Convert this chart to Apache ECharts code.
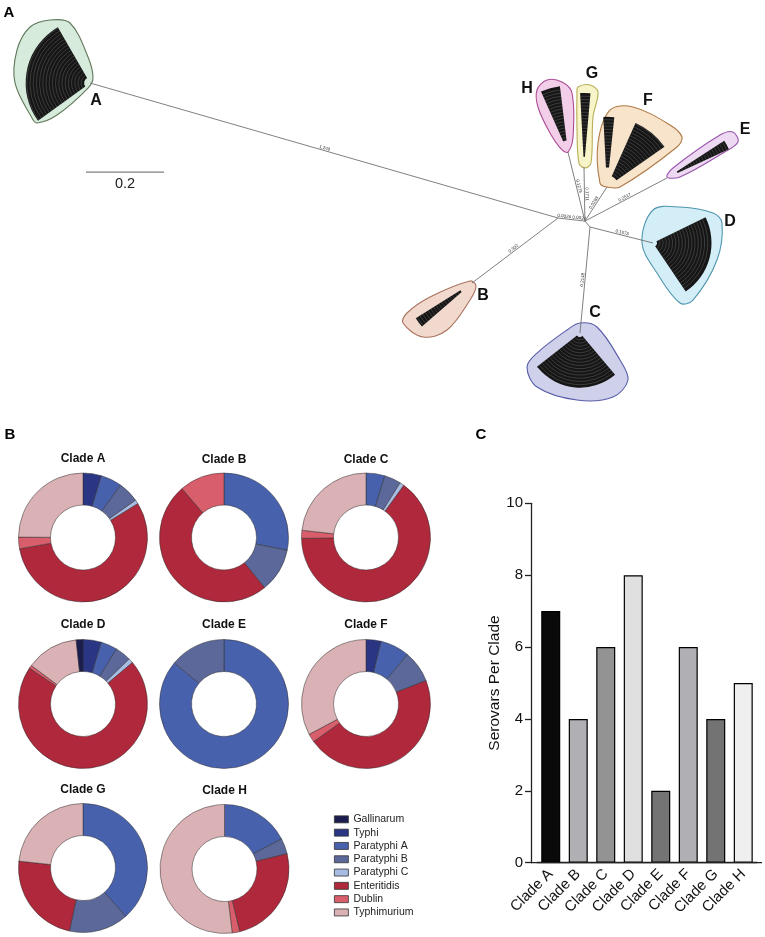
<!DOCTYPE html>
<html><head><meta charset="utf-8">
<script src="https://cdn.jsdelivr.net/npm/echarts@6/dist/echarts.min.js"></script>
<style>html,body{margin:0;padding:0;background:#fff}#c{width:765px;height:937px}</style>
</head><body><div id="c"></div>
<script>
// ================= DATA =================
// Panel B: share of each serovar (%) per clade, in legend order
const serovars = ['Gallinarum','Typhi','Paratyphi A','Paratyphi B','Paratyphi C','Enteritidis','Dublin','Typhimurium'];
const cladeNames = ['Clade A','Clade B','Clade C','Clade D','Clade E','Clade F','Clade G','Clade H'];
const cladeA = [0, 4.6, 5.3, 5.3, 1.0, 56.0, 2.9, 24.9];
const cladeB = [0, 0, 28.2, 11.0, 0, 49.5, 11.3, 0];
const cladeC = [0, 0, 4.7, 4.2, 1.1, 64.8, 2.0, 23.2];
const cladeD = [1.7, 4.6, 4.1, 4.0, 1.2, 70.5, 0.8, 13.1];
const cladeE = [0, 0, 86.0, 14.0, 0, 0, 0, 0];
const cladeF = [0, 3.8, 7.3, 8.0, 0, 46.0, 2.1, 32.8];
const cladeG = [0, 0, 38.5, 14.9, 0, 23.3, 0, 23.3];
const cladeH = [0, 0, 17.3, 3.9, 0, 25.0, 1.9, 51.9];
const cladeShares = [cladeA, cladeB, cladeC, cladeD, cladeE, cladeF, cladeG, cladeH];

// Panel C
const serovarsPerClade = [7, 4, 6, 8, 2, 6, 4, 5];
const yTickValues = [0, 2, 4, 6, 8, 10];

// Panel A: tree in branch-length units (origin = internal node N1)
const treeNodes = {
  N1: [0, 0], N2: [0.069, -0.008], N3: [0.0821, -0.0231],
  A: [-1.2, 0.3462], B: [-0.2205, -0.1667], C: [0.0564, -0.2949], D: [0.2436, -0.0641],
  E: [0.2795, 0.1026], F: [0.1256, 0.0795], G: [0.0667, 0.1308], H: [0.0256, 0.169]
};
const treeEdges = [
  ['N1', 'A', '1.249'], ['N1', 'B', '0.302'], ['N1', 'N2', '0.0026 0.0034'], ['N2', 'N3', ''],
  ['N3', 'C', '0.2148'], ['N3', 'D', '0.1573'], ['N2', 'E', '0.2517'], ['N2', 'F', '0.0283'],
  ['N2', 'G', '0.1711'], ['N2', 'H', '0.1279']
];
const hullKeys = ['A','B','C','D','E','F','G','H'];
const hullA = [[-1.3026,0.5077],[-1.2513,0.5],[-1.2051,0.4128],[-1.1923,0.359],[-1.2051,0.3333],[-1.2846,0.2641],[-1.3359,0.2436],[-1.3487,0.2564],[-1.3923,0.3462],[-1.3872,0.4308],[-1.3538,0.4897]];
const hullB = [[-0.3974,-0.2692],[-0.3462,-0.3051],[-0.2846,-0.2872],[-0.2256,-0.2103],[-0.2103,-0.1744],[-0.2256,-0.1615],[-0.3282,-0.2026],[-0.3872,-0.2436]];
const hullC = [[0.0564,-0.2692],[0.1,-0.2795],[0.159,-0.3641],[0.1795,-0.4154],[0.141,-0.459],[0.0487,-0.4667],[-0.0538,-0.4333],[-0.0795,-0.3821],[-0.0538,-0.3462],[0.0231,-0.2872]];
const hullD = [[0.2154,-0.0641],[0.2436,0.0205],[0.3128,0.0282],[0.3974,0.0128],[0.4205,-0.0128],[0.4077,-0.1077],[0.3462,-0.2103],[0.3128,-0.2179],[0.2538,-0.141]];
const hullE = [[0.2795,0.1051],[0.2949,0.1282],[0.4154,0.2128],[0.4487,0.2205],[0.4615,0.1949],[0.4231,0.1667],[0.3128,0.1051]];
const hullF = [[0.1077,0.0897],[0.1026,0.1923],[0.1333,0.2769],[0.1923,0.2846],[0.2872,0.2385],[0.3179,0.2077],[0.3051,0.1821],[0.159,0.0795],[0.1256,0.0795]];
const hullG = [[0.0513,0.3359],[0.0821,0.341],[0.1026,0.3231],[0.0897,0.259],[0.0846,0.141],[0.0692,0.1282],[0.0538,0.141],[0.0487,0.2333],[0.0487,0.3205]];
const hullH = [[-0.0538,0.3282],[-0.0282,0.3538],[0.0103,0.3487],[0.0359,0.3205],[0.0385,0.2077],[0.0256,0.1692],[0.0103,0.1744],[-0.0205,0.2179],[-0.0513,0.2846]];
const hulls = {A: hullA, B: hullB, C: hullC, D: hullD, E: hullE, F: hullF, G: hullG, H: hullH};
// leaf fans: [rootX, rootY, minAngleDeg, maxAngleDeg, innerRadius, outerRadius] (tree units)
const fans = [
  [-1.2, 0.3462, 120, 216, 0.015, 0.165],
  [-0.2205, -0.1667, 212, 221, 0.035, 0.17],
  [0.0564, -0.2949, 218, 310, 0.01, 0.14],
  [0.2436, -0.0641, -56, 26, 0.01, 0.15],
  [0.2795, 0.1026, 25, 33, 0.03, 0.175],
  [0.1256, 0.0795, 35, 66, 0.03, 0.18],
  [0.1256, 0.0795, 84, 93, 0.05, 0.18],
  [0.0667, 0.1308, 85, 93, 0.026, 0.19],
  [0.0256, 0.169, 97, 114, 0.03, 0.17]
];
const cladeLabelPos = [[-1.1846,0.3008],[-0.1923,-0.1987],[0.0949,-0.2436],[0.441,-0.0103],[0.4795,0.2256],[0.2308,0.3],[0.0872,0.3692],[-0.0795,0.3308]];
const scaleBar = [-1.2103, -1.0103, 0.1179];
const scaleBarLabel = '0.2';

// ================= STYLE =================
const FONT = "'Liberation Sans', Arial, Helvetica, sans-serif";
const serovarColors = ['#1b1d4f','#2a3583','#4861ad','#5b6899','#a8bbe3','#b0283b','#d95e6b','#dab1b4'];
const drawOrder = [1,2,3,4,5,6,7,0];
const hullFill = {A:'#d6ebdc',B:'#f1d9cd',C:'#cfd1eb',D:'#d4eef8',E:'#edd9f1',F:'#f8e3cb',G:'#f8f4c9',H:'#f3cee9'};
const hullStroke = {A:'#62785a',B:'#a8725c',C:'#585ca8',D:'#4f96ae',E:'#9b56ae',F:'#ae7a46',G:'#b8ad56',H:'#ab4d95'};
const barColors = ['#0a0a0b','#b0b0b4','#939393','#e0e0e0','#747474','#b0b0b4','#737373','#efefef'];
const pieCenters = [[83,537.5],[224,537.5],[366,537.5],[83,704],[224,704],[366,704],[83,868],[224.5,869]];
const pieTitleY = [459,460,460,625,625,625,789.5,790.5];

const chart = echarts.init(document.getElementById('c'), null, {renderer:'canvas'});

function renderHull(params, api) {
  const k = hullKeys[api.value(2)];
  const pts = hulls[k].map(p => api.coord(p));
  return {type:'polygon', shape:{points:pts, smooth:0.35}, style:{fill:hullFill[k], stroke:hullStroke[k], lineWidth:1.1}};
}
function renderEdge(params, api) {
  const e = treeEdges[api.value(2)];
  const p0 = api.coord(treeNodes[e[0]]), p1 = api.coord(treeNodes[e[1]]);
  let ang = Math.atan2(p1[1]-p0[1], p1[0]-p0[0]);
  if (ang > Math.PI/2) ang -= Math.PI;
  if (ang < -Math.PI/2) ang += Math.PI;
  return {type:'group', children:[
    {type:'line', shape:{x1:p0[0],y1:p0[1],x2:p1[0],y2:p1[1]}, style:{stroke:'#727272', lineWidth:0.9}},
    {type:'text', x:(p0[0]+p1[0])/2, y:(p0[1]+p1[1])/2, rotation:-ang,
     style:{text:e[2], fontSize:4.5, fill:'#333', align:'center', verticalAlign:'bottom', fontFamily:FONT}}
  ]};
}
function renderFan(params, api) {
  const f = fans[api.value(2)];
  const c = api.coord([f[0], f[1]]);
  const s = api.size([1, 0])[0];
  const r0 = f[4]*s, r1 = f[5]*s;
  const sa = -f[3]*Math.PI/180, ea = -f[2]*Math.PI/180;
  const children = [{type:'sector', shape:{cx:c[0], cy:c[1], r0:r0, r:r1, startAngle:sa, endAngle:ea, clockwise:true}, style:{fill:'#161616'}}];
  for (let r = r0 + 3; r < r1 - 1; r += 3.2) {
    children.push({type:'arc', shape:{cx:c[0], cy:c[1], r:r, startAngle:sa, endAngle:ea, clockwise:true},
      style:{stroke:'rgba(125,125,125,0.6)', lineWidth:0.6, fill:null}});
  }
  return {type:'group', children};
}
function renderCladeLabel(params, api) {
  const i = api.value(2);
  const p = api.coord(cladeLabelPos[i]);
  return {type:'text', x:p[0], y:p[1], style:{text:hullKeys[i], fontSize:16, fontWeight:'bold', fill:'#111', align:'center', verticalAlign:'middle', fontFamily:FONT}};
}
function renderScale(params, api) {
  const a = api.coord([scaleBar[0], scaleBar[2]]), b = api.coord([scaleBar[1], scaleBar[2]]);
  return {type:'group', children:[
    {type:'line', shape:{x1:a[0],y1:a[1],x2:b[0],y2:b[1]}, style:{stroke:'#808080', lineWidth:1.2}},
    {type:'text', x:(a[0]+b[0])/2, y:a[1]+11.5, style:{text:scaleBarLabel, fontSize:14.5, fill:'#222', align:'center', verticalAlign:'middle', fontFamily:FONT}}
  ]};
}
const idx = n => Array.from({length:n}, (_, i) => [0, 0, i]);

const series = [
  {type:'custom', xAxisIndex:0, yAxisIndex:0, renderItem:renderHull, data:idx(hullKeys.length), encode:{x:0,y:1}, silent:true, z:1},
  {type:'custom', xAxisIndex:0, yAxisIndex:0, renderItem:renderEdge, data:idx(treeEdges.length), encode:{x:0,y:1}, silent:true, z:2},
  {type:'custom', xAxisIndex:0, yAxisIndex:0, renderItem:renderFan, data:idx(fans.length), encode:{x:0,y:1}, silent:true, z:3},
  {type:'custom', xAxisIndex:0, yAxisIndex:0, renderItem:renderCladeLabel, data:idx(cladeLabelPos.length), encode:{x:0,y:1}, silent:true, z:4},
  {type:'custom', xAxisIndex:0, yAxisIndex:0, renderItem:renderScale, data:idx(1), encode:{x:0,y:1}, silent:true, z:4}
];

cladeShares.forEach((shares, ci) => {
  series.push({
    type:'pie', name:cladeNames[ci], center:pieCenters[ci], radius:[32.5, 64.5],
    startAngle:90, clockwise:true, silent:true, animation:false,
    label:{show:false}, labelLine:{show:false},
    itemStyle:{borderColor:'rgba(45,45,45,0.7)', borderWidth:0.7},
    data: drawOrder.filter(k => shares[k] > 0).map(k => ({name:serovars[k], value:shares[k], itemStyle:{color:serovarColors[k]}}))
  });
});

series.push({
  type:'bar', xAxisIndex:1, yAxisIndex:1, barWidth:19, silent:true,
  data: serovarsPerClade.map((v, i) => ({value:v, itemStyle:{color:barColors[i], borderColor:'#000', borderWidth:1.2}}))
});

const graphic = [
  {type:'text', x:9, y:13, style:{text:'A', fontSize:15, fontWeight:'bold', fill:'#000', align:'center', verticalAlign:'middle', fontFamily:FONT}},
  {type:'text', x:10, y:435, style:{text:'B', fontSize:15, fontWeight:'bold', fill:'#000', align:'center', verticalAlign:'middle', fontFamily:FONT}},
  {type:'text', x:481, y:435, style:{text:'C', fontSize:15, fontWeight:'bold', fill:'#000', align:'center', verticalAlign:'middle', fontFamily:FONT}},
  {type:'line', shape:{x1:531, y1:862.7, x2:762, y2:862.7}, style:{stroke:'#222', lineWidth:1.3}, z:100}
];
cladeNames.forEach((n, i) => {
  graphic.push({type:'text', x:pieCenters[i][0], y:pieTitleY[i], style:{text:n, fontSize:12, fontWeight:'bold', fill:'#111', align:'center', verticalAlign:'middle', fontFamily:FONT}});
});

chart.setOption({
  animation:false,
  backgroundColor:'#fff',
  textStyle:{fontFamily:FONT},
  grid:[
    {left:0, top:0, width:765, height:440, containLabel:false},
    {left:537, right:8, top:503.3, bottom:74.3, containLabel:false}
  ],
  xAxis:[
    {type:'value', gridIndex:0, min:-1.4308, max:0.5308, show:false},
    {type:'category', gridIndex:1, data:cladeNames,
     axisLine:{lineStyle:{color:'#222', width:1.3}},
     axisTick:{alignWithLabel:true, length:6, lineStyle:{color:'#222', width:1.3}},
     axisLabel:{rotate:45, fontSize:15, color:'#111', margin:9, interval:0, fontFamily:FONT}}
  ],
  yAxis:[
    {type:'value', gridIndex:0, min:-0.5692, max:0.559, show:false},
    {type:'value', gridIndex:1, min:yTickValues[0], max:yTickValues[yTickValues.length-1], interval:2, offset:6,
     name:'Serovars Per Clade', nameLocation:'middle', nameGap:28,
     nameTextStyle:{fontSize:15.5, color:'#111', fontFamily:FONT},
     axisLine:{show:true, lineStyle:{color:'#222', width:1.3}},
     axisTick:{show:true, length:6, lineStyle:{color:'#222', width:1.3}},
     axisLabel:{fontSize:15, color:'#111', margin:8, fontFamily:FONT},
     splitLine:{show:false}}
  ],
  legend:{
    data:serovars, orient:'vertical', left:334, top:812.7, padding:0,
    itemWidth:14, itemHeight:7, itemGap:0, itemTextGap:8, icon:'rect',
    selectedMode:false,
    itemStyle:{borderColor:'#333', borderWidth:0.8},
    textStyle:{fontSize:10.5, lineHeight:13.3, color:'#222', fontFamily:FONT}
  },
  graphic:graphic,
  series:series
});
</script></body></html>
